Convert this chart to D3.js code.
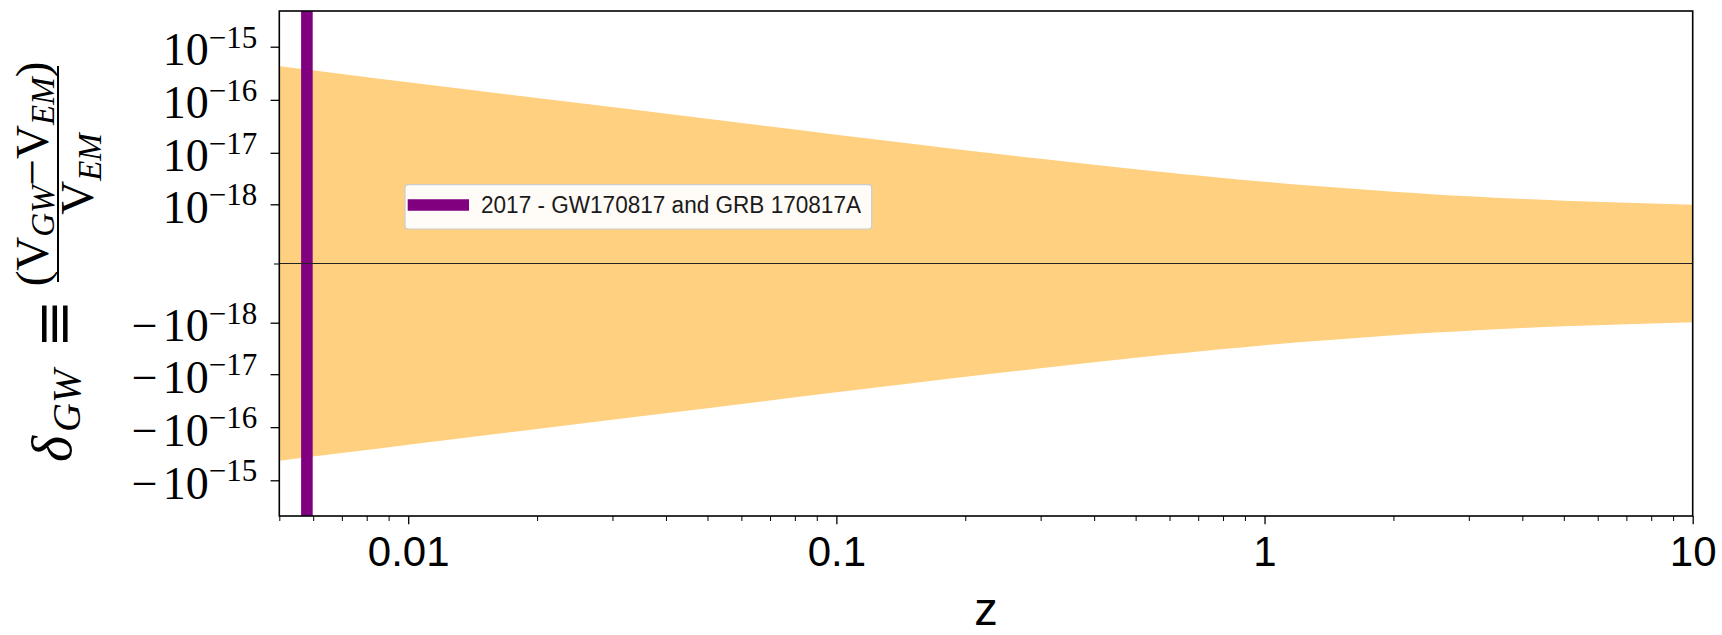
<!DOCTYPE html>
<html>
<head>
<meta charset="utf-8">
<script src="https://cdn.jsdelivr.net/npm/d3@7"></script>
<style>
  html, body { margin: 0; padding: 0; background: #ffffff; }
  svg { display: block; }
</style>
</head>
<body>
<svg id="chart" width="1722" height="635"></svg>
<script>
// ---------------- data ----------------
const zValues    = [0.005, 0.007, 0.01, 0.02, 0.05, 0.1, 0.15, 0.2, 0.3, 0.4, 0.5, 0.6, 0.7, 0.8, 1, 1.2, 1.5, 2, 2.5, 3, 4, 5, 7, 10];
const bandUpper  = [4.3e-16, 3.08e-16, 2.15e-16, 1.08e-16, 4.4e-17, 2.2e-17, 1.48e-17, 1.12e-17, 7.7e-18, 5.93e-18, 4.87e-18, 4.17e-18, 3.67e-18, 3.3e-18, 2.78e-18, 2.44e-18, 2.14e-18, 1.78e-18, 1.58e-18, 1.45e-18, 1.28e-18, 1.18e-18, 1.07e-18, 0.975e-18];
const bandLower  = [-4.3e-16, -3.08e-16, -2.15e-16, -1.08e-16, -4.4e-17, -2.2e-17, -1.48e-17, -1.12e-17, -7.7e-18, -5.93e-18, -4.87e-18, -4.17e-18, -3.67e-18, -3.3e-18, -2.78e-18, -2.44e-18, -2.14e-18, -1.78e-18, -1.58e-18, -1.45e-18, -1.28e-18, -1.18e-18, -1.07e-18, -0.975e-18];
const eventZ     = [0.0058];
const eventLabel = ["2017 - GW170817 and GRB 170817A"];
const xTickValues = [0.01, 0.1, 1, 10];
const xTickLabels = ["0.01", "0.1", "1", "10"];
const yTickValues = [1e-15, 1e-16, 1e-17, 1e-18, -1e-18, -1e-17, -1e-16, -1e-15];
const yTickSign   = ["", "", "", "", "\u2212", "\u2212", "\u2212", "\u2212"];
const yTickExp    = ["\u221215", "\u221216", "\u221217", "\u221218", "\u221218", "\u221217", "\u221216", "\u221215"];
const xDomain = [0.005, 10];
const yDomain = [-4.7e-15, 4.7e-15];
const xLabel = "z";

// ---------------- layout ----------------
const L = 279.3, R = 1692.7, T = 11, B = 516;
const svg = d3.select("#chart");

const x = d3.scaleLog().domain(xDomain).range([L, R]);
const y = d3.scaleSymlog().constant(1e-18 / 12).domain(yDomain).range([B, T]);

svg.append("defs").append("clipPath").attr("id", "plotclip")
  .append("rect").attr("x", L).attr("y", T).attr("width", R - L).attr("height", B - T);

const plot = svg.append("g").attr("clip-path", "url(#plotclip)");

// band
const bandData = zValues.map((z, i) => ({ z, hi: bandUpper[i], lo: bandLower[i] }));
const area = d3.area()
  .curve(d3.curveMonotoneX)
  .x(d => x(d.z))
  .y0(d => y(d.lo))
  .y1(d => y(d.hi));
plot.append("path").datum(bandData)
  .attr("d", area)
  .attr("fill", "#ffd07f")
  .attr("stroke", "none");

// event vertical line
plot.selectAll("line.event").data(eventZ).enter().append("line")
  .attr("class", "event")
  .attr("x1", d => x(d)).attr("x2", d => x(d))
  .attr("y1", T).attr("y2", B)
  .attr("stroke", "#800080")
  .attr("stroke-width", 11.6);

// zero line
plot.append("line")
  .attr("x1", L).attr("x2", R)
  .attr("y1", y(0)).attr("y2", y(0))
  .attr("stroke", "#222")
  .attr("stroke-width", 1.2);

// ---------------- axes ----------------
const xMinor = [];
[0.001, 0.01, 0.1, 1].forEach(dec => {
  for (let k = 2; k <= 9; k++) {
    const v = +(dec * k).toPrecision(3);
    if (v >= xDomain[0] && v <= xDomain[1]) xMinor.push(v);
  }
});

const xAxisMajor = d3.axisBottom(x).tickValues(xTickValues)
  .tickFormat((d, i) => xTickLabels[i]).tickSize(8.3).tickPadding(12);
const gx = svg.append("g").attr("transform", `translate(0,${B})`).call(xAxisMajor);
gx.select(".domain").remove();
gx.selectAll(".tick line").attr("stroke", "#000").attr("stroke-width", 1.3);
gx.selectAll(".tick text")
  .attr("fill", "#000")
  .style("font-family", "'Liberation Sans', Arial, sans-serif")
  .style("font-size", "42px")
  .attr("dy", "0.71em");

const xAxisMinor = d3.axisBottom(x).tickValues(xMinor).tickFormat("").tickSize(5);
const gxm = svg.append("g").attr("transform", `translate(0,${B})`).call(xAxisMinor);
gxm.select(".domain").remove();
gxm.selectAll(".tick line").attr("stroke", "#000").attr("stroke-width", 1.0);

// y axis
const yAxis = d3.axisLeft(y).tickValues(yTickValues).tickFormat("").tickSize(8.7);
const gy = svg.append("g").attr("transform", `translate(${L},0)`).call(yAxis);
gy.select(".domain").remove();
gy.selectAll(".tick line").attr("stroke", "#000").attr("stroke-width", 1.3);

const yAxisZero = d3.axisLeft(y).tickValues([0]).tickFormat("").tickSize(5.3);
const gy0 = svg.append("g").attr("transform", `translate(${L},0)`).call(yAxisZero);
gy0.select(".domain").remove();
gy0.selectAll(".tick line").attr("stroke", "#000").attr("stroke-width", 1.0);

// y tick labels (10^{-n})
const ylab = svg.append("g");
yTickValues.forEach((v, i) => {
  const t = ylab.append("text")
    .attr("x", 257.3)
    .attr("y", y(v) + 18.4)
    .attr("text-anchor", "end")
    .attr("fill", "#000")
    .style("font-family", "'Liberation Serif', 'Times New Roman', serif")
    .style("font-size", "46px");
  if (yTickSign[i]) {
    t.append("tspan").text(yTickSign[i]);
    t.append("tspan").attr("dx", 5).text("10");
  } else {
    t.append("tspan").text("10");
  }
  t.append("tspan").attr("dy", -17.4).style("font-size", "31px").text(yTickExp[i]);
});

// spines
svg.append("rect")
  .attr("x", L).attr("y", T).attr("width", R - L).attr("height", B - T)
  .attr("fill", "none").attr("stroke", "#000").attr("stroke-width", 1.6);

// ---------------- legend ----------------
const lg = svg.append("g");
lg.append("rect")
  .attr("x", 405).attr("y", 184.7).attr("width", 466.7).attr("height", 44.3)
  .attr("rx", 3).attr("ry", 3)
  .attr("fill", "#fffdfb").attr("fill-opacity", 0.97)
  .attr("stroke", "#cccccc").attr("stroke-width", 1.2);
lg.append("line")
  .attr("x1", 407.7).attr("x2", 469).attr("y1", 205).attr("y2", 205)
  .attr("stroke", "#800080").attr("stroke-width", 11.3);
lg.append("text")
  .attr("x", 481).attr("y", 212.5)
  .attr("fill", "#1a1a1a")
  .attr("textLength", 380).attr("lengthAdjust", "spacingAndGlyphs")
  .style("font-family", "'Liberation Sans', Arial, sans-serif")
  .style("font-size", "23.5px")
  .text(eventLabel[0]);

// ---------------- axis labels ----------------
svg.append("text")
  .attr("x", (L + R) / 2).attr("y", 625)
  .attr("text-anchor", "middle")
  .attr("fill", "#000")
  .style("font-family", "'Liberation Sans', Arial, sans-serif")
  .style("font-size", "47px")
  .text(xLabel);

// y label: δ_GW ≡ (V_GW − V_EM) / V_EM   (rotated)
const yl = svg.append("g").attr("transform", "translate(71,462) rotate(-90)");
const serif = "'Liberation Serif', 'Times New Roman', serif";
yl.append("text").attr("x", 0).attr("y", 0)
  .style("font-family", serif).style("font-style", "italic").style("font-size", "56px")
  .text("\u03b4");
yl.append("text").attr("x", 30).attr("y", 9)
  .style("font-family", serif).style("font-style", "italic").style("font-size", "40px")
  .text("GW");
yl.append("text").attr("x", 114).attr("y", 2)
  .style("font-family", "'DejaVu Serif', serif").style("font-size", "58px")
  .text("\u2261");
// fraction bar
yl.append("line").attr("x1", 180).attr("x2", 396).attr("y1", -13).attr("y2", -13)
  .attr("stroke", "#000").attr("stroke-width", 2);
// numerator
const num = yl.append("text").attr("x", 288).attr("y", -23).attr("text-anchor", "middle")
  .style("font-family", serif).style("font-size", "47px");
num.append("tspan").text("(V");
num.append("tspan").attr("dy", 6).style("font-style", "italic").style("font-size", "33px").text("GW");
num.append("tspan").attr("dy", -6).text("\u2212V");
num.append("tspan").attr("dy", 6).style("font-style", "italic").style("font-size", "33px").text("EM");
num.append("tspan").attr("dy", -6).text(")");
// denominator
const den = yl.append("text").attr("x", 288).attr("y", 22).attr("text-anchor", "middle")
  .style("font-family", serif).style("font-size", "47px");
den.append("tspan").text("V");
den.append("tspan").attr("dy", 8).style("font-style", "italic").style("font-size", "33px").text("EM");
</script>
</body>
</html>
